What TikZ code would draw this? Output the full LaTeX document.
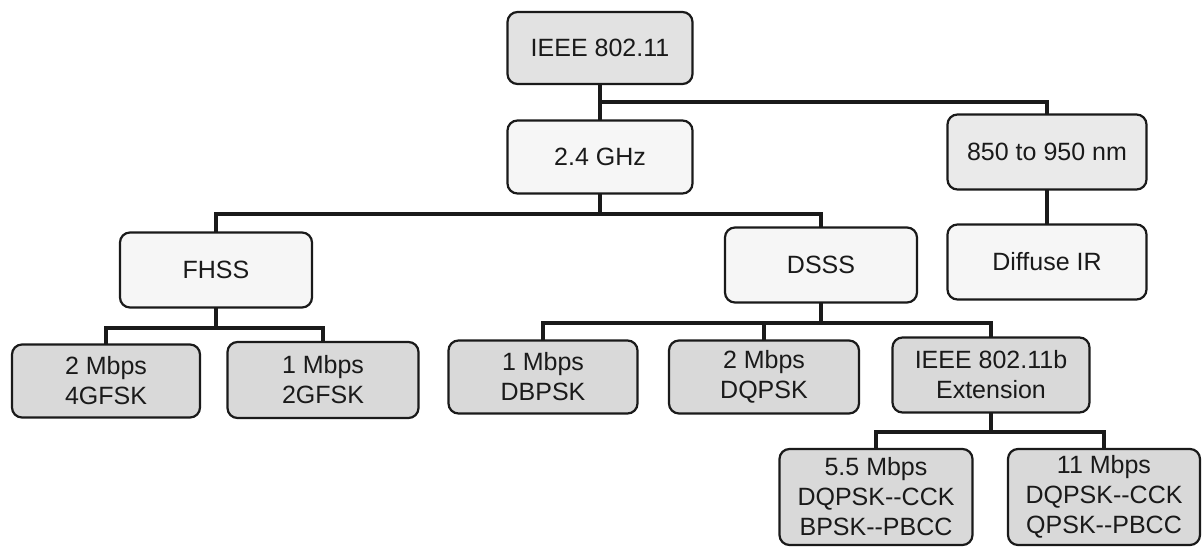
\documentclass[tikz,border=0pt]{standalone}
\usepackage{fontspec}
\setmainfont{Liberation Sans}
\definecolor{ink}{HTML}{1A1A1A}
\definecolor{leaffill}{HTML}{D9D9D9}
\definecolor{topfill}{HTML}{E2E2E2}
\definecolor{nmfill}{HTML}{EAEAEA}
\definecolor{plainfill}{HTML}{F6F6F6}
\tikzset{
  box/.style={draw=ink, line width=2.2pt, rounded corners=10pt, inner sep=0pt,
    align=center, text=ink, font=\fontsize{25}{30}\selectfont},
  leafbox/.style={box, fill=leaffill},
  topbox/.style={box, fill=topfill},
  nmbox/.style={box, fill=nmfill},
  plainbox/.style={box, fill=plainfill},
  link/.style={line width=4pt, draw=ink, line cap=rect, line join=miter}
}
\begin{document}
\begin{tikzpicture}[x=1pt,y=-1pt]
\useasboundingbox (0,0) rectangle (1204,547);
% level 0
\node[topbox, minimum width=185, minimum height=72] (ieee) at (600,48) {IEEE 802.11};
% level 1
\node[plainbox, minimum width=185, minimum height=73] (ghz) at (600,157) {2.4 GHz};
\node[nmbox, minimum width=199, minimum height=75] (nm) at (1047,152) {850 to 950 nm};
% level 2
\node[plainbox, minimum width=192, minimum height=75] (fhss) at (216,270) {FHSS};
\node[plainbox, minimum width=192, minimum height=75] (dsss) at (821,265) {DSSS};
\node[plainbox, minimum width=199, minimum height=75] (dir) at (1047,262) {Diffuse IR};
% level 3
\node[leafbox, minimum width=188, minimum height=73] (m2g4) at (106,381) {2 Mbps\\4GFSK};
\node[leafbox, minimum width=191, minimum height=76] (m1g2) at (323,380) {1 Mbps\\2GFSK};
\node[leafbox, minimum width=189, minimum height=73] (dbpsk) at (543,377) {1 Mbps\\DBPSK};
\node[leafbox, minimum width=190, minimum height=73] (dqpsk) at (764,377) {2 Mbps\\DQPSK};
\node[leafbox, minimum width=197, minimum height=75] (ext) at (991,375) {IEEE 802.11b\\Extension};
% level 4
\node[leafbox, minimum width=193, minimum height=96] (m55) at (876,497) {5.5 Mbps\\DQPSK-{}-CCK\\BPSK-{}-PBCC};
\node[leafbox, minimum width=192, minimum height=96] (m11) at (1104,497) {11 Mbps\\DQPSK-{}-CCK\\QPSK-{}-PBCC};
% junctions
\coordinate (j1) at (600,102);
\coordinate (j2) at (600,214);
\coordinate (j3) at (216,328);
\coordinate (j4) at (821,323);
\coordinate (j5) at (991,432);
% connectors
\draw[link] (ieee.south) -- (ghz.north);
\draw[link] (j1) -| (nm.north);
\draw[link] (ghz.south) -- (j2);
\draw[link] (fhss.north) |- (j2) -| (dsss.north);
\draw[link] (nm.south) -- (dir.north);
\draw[link] (fhss.south) -- (j3);
\draw[link] (m2g4.north) |- (j3) -| (m1g2.north);
\draw[link] (dsss.south) -- (j4);
\draw[link] (dbpsk.north) |- (j4) -| (ext.north);
\draw[link] (dqpsk.north) -- (dqpsk.north |- j4);
\draw[link] (ext.south) -- (j5);
\draw[link] (m55.north) |- (j5) -| (m11.north);
\end{tikzpicture}
\end{document}
